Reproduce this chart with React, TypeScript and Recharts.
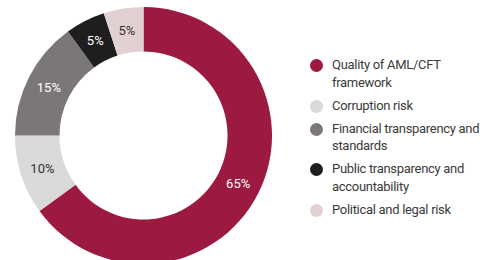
import React from "react";
import { PieChart, Pie, Cell } from "recharts";

const categories = [
  "Quality of AML/CFT\nframework",
  "Corruption risk",
  "Financial transparency and\nstandards",
  "Public transparency and\naccountability",
  "Political and legal risk",
];
const values = [65, 10, 15, 5, 5];
const colors = ["#9C1A40", "#D9D9D9", "#7B7779", "#1E1E1E", "#E2D1D2"];
const labelColors = ["#ffffff", "#333333", "#ffffff", "#ffffff", "#333333"];

const data = categories.map((name, i) => ({ name, value: values[i] }));

const RADIAN = Math.PI / 180;

const renderLabel = (props: any) => {
  const { cx, cy, midAngle, innerRadius, outerRadius, value, index } = props;
  const r = (innerRadius + outerRadius) / 2;
  const x = cx + r * Math.cos(-midAngle * RADIAN);
  const y = cy + r * Math.sin(-midAngle * RADIAN);
  return (
    <text
      x={x}
      y={y}
      fill={labelColors[index]}
      textAnchor="middle"
      dominantBaseline="central"
      fontSize={13}
      fontFamily="Roboto, sans-serif"
    >
      {value}%
    </text>
  );
};

export default function App() {
  return (
    <div style={{ position: "absolute", left: 0, top: 0, width: 484, height: 260, background: "#fff", overflow: "hidden" }}>
      <PieChart width={484} height={260} margin={{ top: 0, right: 0, bottom: 0, left: 0 }}>
        <Pie
          data={data}
          dataKey="value"
          cx={143.5}
          cy={135.5}
          innerRadius={84}
          outerRadius={128.5}
          startAngle={90}
          endAngle={-270}
          stroke="none"
          label={renderLabel}
          labelLine={false}
          isAnimationActive={false}
        >
          {data.map((_, i) => (
            <Cell key={i} fill={colors[i]} />
          ))}
        </Pie>
      </PieChart>
      <div
        style={{
          position: "absolute",
          left: 310,
          top: 56,
          width: 174,
          fontFamily: "Roboto, sans-serif",
          fontSize: 13,
          letterSpacing: "-0.3px",
          color: "#3a3a3a",
        }}
      >
        {categories.map((name, i) => (
          <div
            key={i}
            style={{ display: "flex", alignItems: "flex-start", marginBottom: 5.5, lineHeight: "17.5px" }}
          >
            <span
              style={{
                display: "inline-block",
                width: 13,
                height: 13,
                borderRadius: "50%",
                background: colors[i],
                marginTop: 3,
                marginRight: 9,
                flexShrink: 0,
              }}
            />
            <span style={{ whiteSpace: "pre" }}>{name}</span>
          </div>
        ))}
      </div>
    </div>
  );
}
